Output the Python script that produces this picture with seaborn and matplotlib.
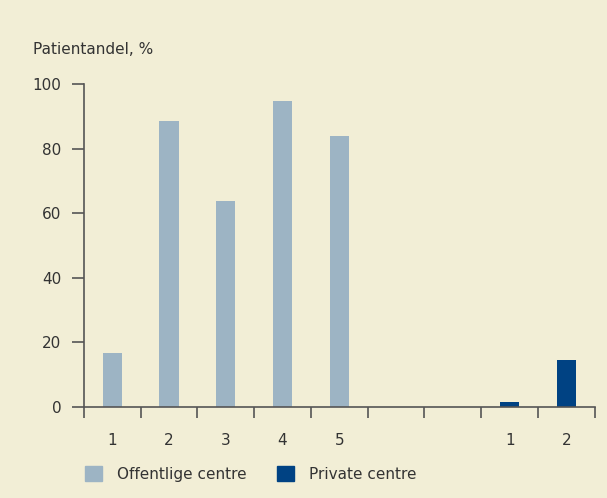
import pandas as pd
import matplotlib.pyplot as plt
import seaborn as sns
from matplotlib.ticker import FixedLocator

# --- data ---
slots = ['O1', 'O2', 'O3', 'O4', 'O5', 'gap1', 'gap2', 'P1', 'P2']
slot_labels = ['1', '2', '3', '4', '5', '', '', '1', '2']
offentlige_ids = ['O1', 'O2', 'O3', 'O4', 'O5']
offentlige_vals = [16.7, 88.5, 63.8, 94.7, 83.9]
private_ids = ['P1', 'P2']
private_vals = [1.5, 14.5]

BG = '#f2eed6'
C_OFF = '#9db4c4'
C_PRIV = '#004283'
TXT = '#333333'
AX = '#555555'

df = pd.DataFrame({
    'slot': offentlige_ids + private_ids,
    'andel': offentlige_vals + private_vals,
    'type': ['Offentlige centre'] * len(offentlige_ids) + ['Private centre'] * len(private_ids),
})

sns.set_theme(style='white')
plt.rcParams['font.family'] = ['DejaVu Sans']

fig = plt.figure(figsize=(6.07, 4.98), dpi=100, facecolor=BG)
ax = fig.add_axes([0.138, 0.183, 0.842, 0.648])
ax.set_facecolor(BG)

sns.barplot(data=df, x='slot', y='andel', hue='type', order=slots,
            palette={'Offentlige centre': C_OFF, 'Private centre': C_PRIV},
            dodge=False, width=0.34, saturation=1, linewidth=0, ax=ax, legend=False)

ax.set_xlim(-0.5, len(slots) - 0.5)
ax.set_ylim(0, 100)
ax.set_yticks([0, 20, 40, 60, 80, 100])
ax.set_xticks(range(len(slots)))
ax.set_xticklabels(slot_labels)
ax.xaxis.set_minor_locator(FixedLocator([i - 0.5 for i in range(len(slots) + 1)]))
ax.tick_params(axis='x', which='both', bottom=True)
ax.tick_params(axis='y', which='major', left=True)
ax.tick_params(axis='x', which='major', length=0, pad=19, labelsize=11, labelcolor=TXT)
ax.tick_params(axis='x', which='minor', length=8, width=1.2, color=AX, direction='out')
ax.tick_params(axis='y', length=9, width=1.2, color=AX, direction='out', pad=7,
               labelsize=11, labelcolor=TXT)
ax.set_xlabel('')
ax.set_ylabel('')

for s in ['top', 'right']:
    ax.spines[s].set_visible(False)
for s in ['left', 'bottom']:
    ax.spines[s].set_color(AX)
    ax.spines[s].set_linewidth(1.2)

fig.text(33 / 607, 1 - 50 / 498, 'Patientandel, %', fontsize=11, color=TXT, va='center', ha='left')

handles = [plt.Rectangle((0, 0), 1, 1, color=C_OFF), plt.Rectangle((0, 0), 1, 1, color=C_PRIV)]
fig.legend(handles, ['Offentlige centre', 'Private centre'], loc='center left',
           bbox_to_anchor=(71 / 607, 1 - 474 / 498), ncol=2, frameon=False,
           fontsize=11, labelcolor=TXT, handlelength=1.1, handleheight=1.1,
           handletextpad=1.0, columnspacing=2.0)

fig.savefig('out.png', dpi=100, facecolor=BG)
